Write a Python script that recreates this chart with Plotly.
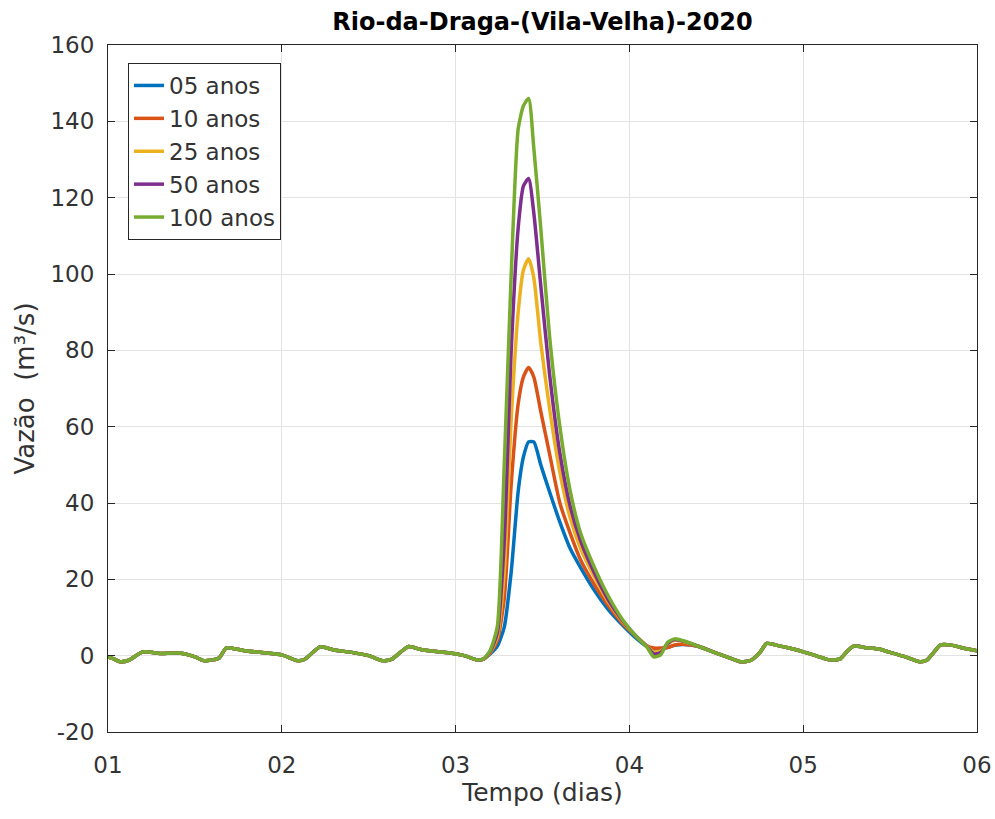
import plotly.graph_objects as go

# ---- data ----
x_before = [1.00, 1.03, 1.07, 1.12, 1.20, 1.30, 1.41, 1.50, 1.55, 1.60, 1.64, 1.68, 1.72,
            1.80, 1.91, 2.00, 2.09, 2.13, 2.17, 2.22, 2.30, 2.41, 2.50, 2.58, 2.63, 2.68,
            2.73, 2.80, 2.90, 2.97, 3.05, 3.12, 3.16]
y_before = [-0.3, -0.8, -1.6, -1.2, 1.0, 0.6, 0.7, -0.3, -1.3, -1.1, -0.6, 2.0, 1.9,
            1.2, 0.7, 0.2, -1.3, -1.0, 0.5, 2.3, 1.5, 0.8, 0.0, -1.3, -1.0, 0.8,
            2.4, 1.6, 1.0, 0.7, 0.0, -1.1, -0.9]

x_event = [3.20, 3.24, 3.28, 3.32, 3.36, 3.39, 3.42, 3.45, 3.49, 3.54, 3.60, 3.66, 3.72,
           3.80, 3.88, 3.96, 4.04, 4.10, 4.14, 4.18, 4.22, 4.26, 4.31]
y_05 = [0.5, 2.5, 7.5, 22, 43, 52, 56, 56, 50, 43, 35, 28, 23,
        17, 12, 8, 4.5, 2.4, 1.5, 1.8, 2.2, 2.7, 2.9]
y_10 = [0.8, 4, 15, 45, 66, 73, 75.5, 73, 64, 53, 40, 32, 25,
        18.5, 13, 8.5, 5, 2.6, 2.0, 2.0, 2.1, 2.8, 3.0]
y_25 = [1.0, 5, 22, 62, 90, 101, 104, 99, 82, 65, 48, 36, 28,
        20.5, 14, 9, 5, 2.5, 1.0, 1.2, 3.0, 4.0, 3.7]
y_50 = [1.2, 6, 30, 80, 112, 123, 125, 116, 97, 74, 53, 39, 30,
        21.5, 14.5, 9.2, 5, 2.4, 0.5, 0.8, 3.2, 4.2, 3.8]
y_100 = [1.5, 7.6, 50, 100, 138, 144, 146, 133, 112, 84, 60, 43, 32,
         23, 15.5, 9.5, 5, 2.3, -0.3, 0.2, 3.5, 4.4, 3.9]

x_after = [4.40, 4.48, 4.56, 4.64, 4.70, 4.75, 4.79, 4.85, 4.92, 5.00, 5.08, 5.15, 5.21,
           5.25, 5.29, 5.36, 5.44, 5.52, 5.60, 5.67, 5.71, 5.75, 5.79, 5.86, 5.92, 6.00]
y_after = [2.4, 1.0, -0.3, -1.6, -1.2, 0.8, 3.2, 2.7, 2.0, 1.0, -0.1, -1.1, -0.9,
           1.0, 2.5, 2.1, 1.7, 0.6, -0.5, -1.6, -1.2, 0.8, 2.8, 2.7, 2.0, 1.3]

series_names = ["05 anos", "10 anos", "25 anos", "50 anos", "100 anos"]
series_event = [y_05, y_10, y_25, y_50, y_100]
colors = ["#0072BD", "#D95319", "#EDB120", "#7E2F8E", "#77AC30"]

x_tickvals = [1, 2, 3, 4, 5, 6]
x_ticktext = ["01", "02", "03", "04", "05", "06"]
y_tickvals = [-20, 0, 20, 40, 60, 80, 100, 120, 140, 160]
y_ticktext = ["-20", "0", "20", "40", "60", "80", "100", "120", "140", "160"]

FONT = "DejaVu Sans"
TXT = "#333333"

fig = go.Figure()
x_all = x_before + x_event + x_after
for name, ev, col in zip(series_names, series_event, colors):
    fig.add_trace(go.Scatter(
        x=x_all, y=y_before + ev + y_after, mode="lines", name=name,
        line=dict(color=col, width=3.5, shape="spline", smoothing=0.6),
    ))

# the page body margin is removed by post_script, so the figure sits at (0, 0)
W, H = 995, 819
L, R, T, B = 108, 18, 45, 87
PW, PH = W - L - R, H - T - B
fig.update_layout(
    width=W, height=H,
    margin=dict(l=L, r=R, t=T, b=B, autoexpand=False),
    paper_bgcolor="white", plot_bgcolor="white",
    font=dict(family=FONT, size=23, color=TXT),
    title=dict(text="<b>Rio-da-Draga-(Vila-Velha)-2020</b>",
               font=dict(family=FONT, size=24, color="#000000"),
               x=0.5, xref="paper", xanchor="center",
               y=1 - 22 / H, yref="container", yanchor="middle"),
    showlegend=True,
    legend=dict(x=(128 - L) / PW, y=1 - (63 - T) / PH,
                xanchor="left", yanchor="top",
                bgcolor="white", bordercolor="#262626", borderwidth=1,
                font=dict(family=FONT, size=23, color=TXT),
                itemwidth=30, tracegroupgap=0),
    xaxis=dict(range=[1, 6], tickvals=x_tickvals, ticktext=x_ticktext,
               showgrid=True, gridcolor="#e3e3e3", gridwidth=1,
               showline=True, linecolor="#262626", linewidth=1, mirror="ticks",
               ticks="inside", ticklen=7, tickcolor="#262626",
               ticklabelstandoff=12, zeroline=False, ticklabeloverflow="allow",
               title=dict(text="Tempo (dias)", font=dict(family=FONT, size=25, color=TXT),
                          standoff=4)),
    yaxis=dict(range=[-20, 160], tickvals=y_tickvals, ticktext=y_ticktext,
               showgrid=True, gridcolor="#e3e3e3", gridwidth=1,
               showline=True, linecolor="#262626", linewidth=1, mirror="ticks",
               ticks="inside", ticklen=7, tickcolor="#262626",
               ticklabelstandoff=8, zeroline=False,
               title=dict(text="Vazão  (m³/s)", font=dict(family=FONT, size=26, color=TXT),
                          standoff=8)),
)

fig.write_html("out.html",
               config={"displayModeBar": False},
               post_script="document.body.style.margin='0px';document.body.style.overflow='hidden';")
